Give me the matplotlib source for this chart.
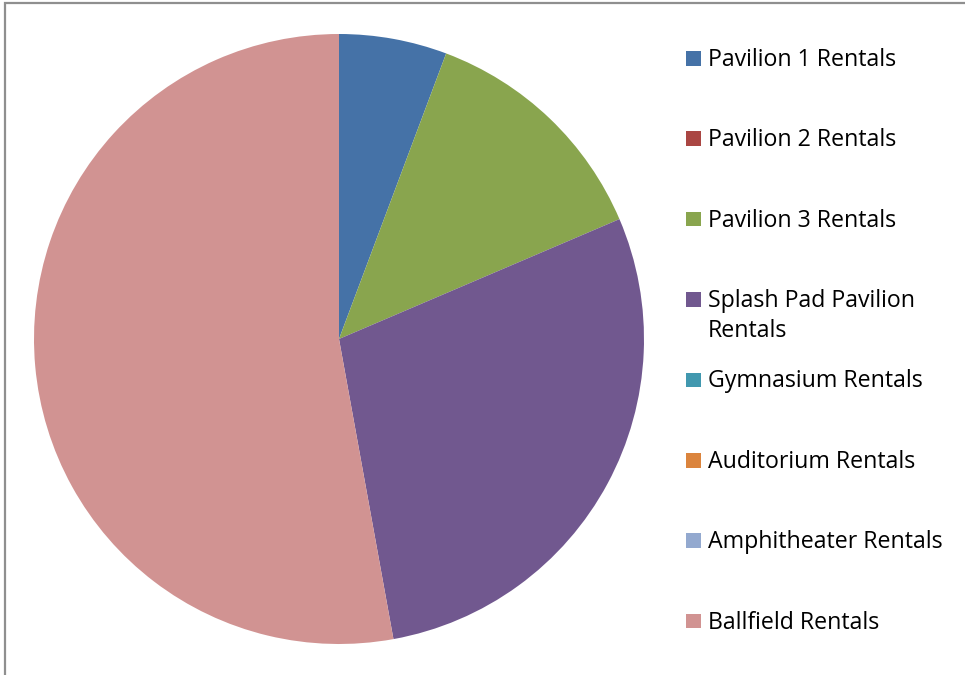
import matplotlib
matplotlib.use("Agg")
import matplotlib.pyplot as plt
from matplotlib.patches import Rectangle

categories = ["Pavilion 1 Rentals", "Pavilion 2 Rentals", "Pavilion 3 Rentals",
              "Splash Pad Pavilion\nRentals", "Gymnasium Rentals", "Auditorium Rentals",
              "Amphitheater Rentals", "Ballfield Rentals"]
values = [4, 0, 9, 20, 0, 0, 0, 37]
colors = ["#4572A7", "#AA4643", "#89A54E", "#71588F", "#4198AF", "#DB843D",
          "#93A9CF", "#D19392"]

W, H = 965, 675
fig = plt.figure(figsize=(W / 100, H / 100), dpi=100)

# pie axes: center (339,339), radius 305 px
cx, cy, r = 339, 339, 305
ax = fig.add_axes([(cx - r) / W, (H - cy - r) / H, 2 * r / W, 2 * r / H])
ax.pie(values, colors=colors, startangle=90, counterclock=False, radius=1,
       wedgeprops=dict(linewidth=0))
ax.set_xlim(-1, 1)
ax.set_ylim(-1, 1)
ax.set_aspect("equal")
ax.axis("off")

# border (chart area outline, right/bottom cut off)
fig.add_artist(Rectangle((5 / W, -0.1), 1.2, (H - 3) / H + 0.1, transform=fig.transFigure,
                         fill=False, edgecolor="#8F8F8F", linewidth=1.6))

# legend
font = ["Open Sans", "DejaVu Sans"]
for i, (lab, col) in enumerate(zip(categories, colors)):
    yc = 58.3 + i * 80.4
    sq = 14.5
    fig.add_artist(Rectangle((686 / W, 1 - (yc + sq / 2) / H), sq / W, sq / H,
                             transform=fig.transFigure, facecolor=col, edgecolor="none"))
    for j, line in enumerate(lab.split("\n")):
        fig.text(707.5 / W, 1 - (yc + 7.5 + 30 * j) / H, line, fontsize=16.7, family=font,
                 color="#000000", va="baseline", ha="left")

fig.savefig("out.png", dpi=100)
